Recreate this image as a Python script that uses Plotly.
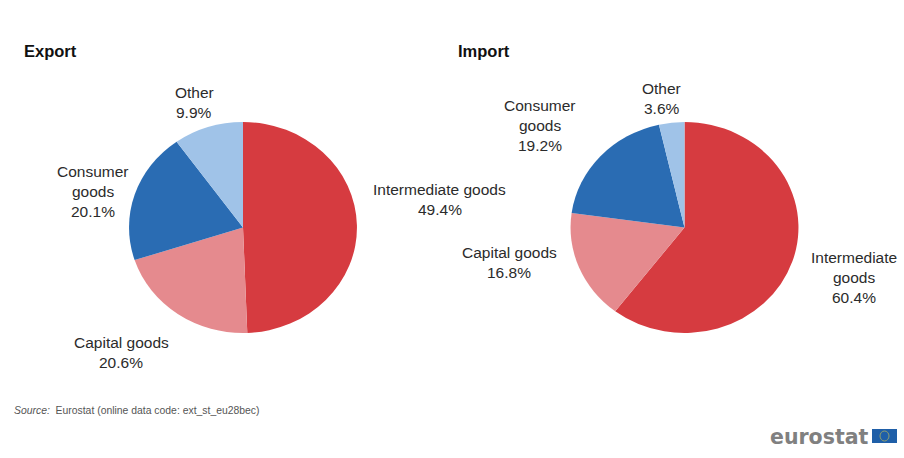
import plotly.graph_objects as go

W, H = 904, 458

categories = ["Intermediate goods", "Capital goods", "Consumer goods", "Other"]
export_values = [49.4, 20.6, 20.1, 9.9]
import_values = [60.4, 16.8, 19.2, 3.6]
slice_colors = ["#d63b40", "#e58a8e", "#2a6cb3", "#a0c3e8"]

TEXT = "#2b2b2b"
FONT = "Liberation Sans"


def px(x):
    return x / W


def py(y):
    return 1 - y / H


def pie(values, cx, cy, r):
    return go.Pie(
        labels=categories,
        values=values,
        sort=False,
        direction="clockwise",
        rotation=0,
        textinfo="none",
        hoverinfo="label+percent",
        showlegend=False,
        marker=dict(colors=slice_colors, line=dict(width=0)),
        domain=dict(x=[px(cx - r), px(cx + r)], y=[py(cy + r), py(cy - r)]),
    )


fig = go.Figure([pie(export_values, 243, 227.5, 110), pie(import_values, 684.5, 227.5, 110)])


def note(text, x, y, size=15.5, color=TEXT, anchor="center", bold=False, family=FONT):
    fig.add_annotation(
        x=px(x), y=py(y), xref="paper", yref="paper", text=f"<b>{text}</b>" if bold else text,
        showarrow=False, xanchor=anchor, yanchor="middle", align="center",
        font=dict(family=family, size=size, color=color),
    )


# Panel headings
note("Export", 22, 51, size=16.5, anchor="left", bold=True, color="#111111")
note("Import", 456, 51, size=16.5, anchor="left", bold=True, color="#111111")


def slice_label(name_lines, value, x, y):
    # Stacked lines sit on a 20 px pitch.
    for i, line in enumerate(name_lines + [f"{value}%"]):
        note(line, x, y + i * 20)


# Export labels
slice_label(["Other"], export_values[3], 194, 92.5)
slice_label(["Consumer", "goods"], export_values[2], 93, 171.5)
slice_label(["Intermediate goods"], export_values[0], 439.5, 189.5)
slice_label(["Capital goods"], export_values[1], 121, 342.5)

# Import labels
slice_label(["Other"], import_values[3], 661.5, 88)
slice_label(["Consumer", "goods"], import_values[2], 540, 105)
slice_label(["Capital goods"], import_values[1], 509, 252.5)
slice_label(["Intermediate", "goods"], import_values[0], 854, 257)

# Source line
fig.add_annotation(
    x=px(12), y=py(410), xref="paper", yref="paper", showarrow=False, xanchor="left", yanchor="middle",
    text="<i>Source:</i>  Eurostat (online data code: ext_st_eu28bec)",
    font=dict(family=FONT, size=10.4, color="#555555"),
)

# Publisher mark: wordmark and flag
note("eurostat", 819, 437, size=20.5, color="#808080", bold=True, family="DejaVu Sans")
fig.add_shape(type="rect", xref="paper", yref="paper", x0=px(872), x1=px(897), y0=py(443), y1=py(429),
              fillcolor="#1f5fa8", line=dict(width=0))
fig.add_shape(type="circle", xref="paper", yref="paper", x0=px(880), x1=px(889), y0=py(441), y1=py(431),
              fillcolor="rgba(0,0,0,0)", line=dict(width=1, color="#8f9f70"))

fig.update_layout(
    width=W, height=H, autosize=False,
    margin=dict(l=0, r=0, t=0, b=0),
    paper_bgcolor="white",
    font=dict(family=FONT),
)

# The pies are drawn slightly wider than tall: scale each one about its own centre.
stretch_pies = """
document.querySelectorAll('.pielayer .trace').forEach(function (t) {
  var b = t.getBBox(), cx = b.x + b.width / 2, cy = b.y + b.height / 2;
  t.setAttribute('transform', 'translate(' + cx + ',' + cy + ') scale(1.036,0.959) translate(' + (-cx) + ',' + (-cy) + ')');
});
"""

fig.write_html("out.html", config=dict(displayModeBar=False), post_script=stretch_pies)
